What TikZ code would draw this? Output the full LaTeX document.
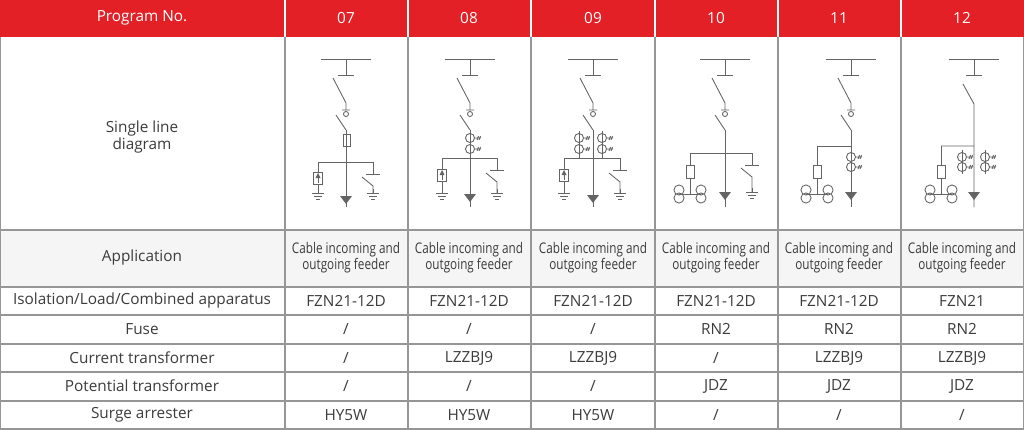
\documentclass[tikz,border=0pt]{standalone}
\usepackage{fontspec}
\setmainfont{Open Sans}
\usepackage{graphicx}
\definecolor{hdr}{RGB}{226,32,38}
\definecolor{grid}{RGB}{150,150,150}
\definecolor{ln}{RGB}{100,100,100}
\definecolor{txt}{RGB}{60,60,60}
\tikzset{el/.style={draw=ln,line width=0.65pt},
 cell/.style={text=txt,font=\fontsize{11.5}{13}\selectfont,align=center},
 hcell/.style={text=white,font=\fontsize{11.5}{13}\selectfont},
 app/.style={text=txt,font=\fontsize{11}{13}\selectfont,align=center}}
\newcommand\topsec[1]{%
 \draw[el] (#1-25,59)--(#1+25,59) (#1,59)--(#1,75) (#1-8,75)--(#1+8,75);
 \draw[el] (#1-13,78)--(#1,103)--(#1,110) (#1-4,110)--(#1+4,110);
 \draw[el] (#1,114) circle[radius=1.9pt];
 \draw[el] (#1-10,115)--(#1,130);}
\newcommand\gnd[2]{\draw[el] (#1,#2-4)--(#1,#2) (#1-6,#2)--(#1+6,#2) (#1-4,#2+3)--(#1+4,#2+3) (#1-2,#2+6)--(#1+2,#2+6);}
\newcommand\cable[2]{\fill[ln] (#1-6,#2)--(#1+6,#2)--(#1,#2+8)--cycle;}
\newcommand\arrester[3]{%
 \draw[el] (#1-4.5,#2) rectangle (#1+4.5,#2+12);
 \draw[el] (#1,#2+11)--(#1,#2+5); \fill[ln] (#1-2.5,#2+6)--(#1+2.5,#2+6)--(#1,#2+1)--cycle;
 \draw[el] (#1,#2+12)--(#1,#3); \gnd{#1}{#3}}
\newcommand\esw[3]{%
 \draw[el] (#1,#2)--(#1,#2+12) (#1-7,#2+12)--(#1+7,#2+12);
 \draw[el] (#1-11,#2+15)--(#1,#2+24)--(#1,#3); \gnd{#1}{#3}}
\newcommand\ct[2]{%
 \draw[el] (#1,#2) circle[radius=3.4pt];
 \draw[el] (#1+4.5,#2)--(#1+11,#2) (#1+7,#2+2)--(#1+8.5,#2-2) (#1+9,#2+2)--(#1+10.5,#2-2);}
\newcommand\ptset[3]{%
 \draw[el] (#1,#2)--(#1,#3) (#1-4,#3) rectangle (#1+4,#3+13) (#1,#3+13)--(#1,194);
 \draw[el] (#1-11,194)--(#1+11,194);
 \foreach \xx in {-11,11}{\draw[el] (#1+\xx,190) circle[radius=3.8pt] (#1+\xx,198) circle[radius=3.8pt];}}
\begin{document}
\begin{tikzpicture}[x=0.75pt,y=-0.75pt]
\useasboundingbox (0,0) rectangle (1024,429);
\fill[white] (0,0) rectangle (1024,429);
\fill[hdr] (0,0) rectangle (1024,37);
\fill[black!4] (0,230) rectangle (1024,287);
\foreach \x in {285,408,531,655,778,901} {\draw[white,line width=1pt] (\x,0)--(\x,37); \draw[grid,line width=0.8pt] (\x,37)--(\x,429);}
\foreach \y in {230,287,315,344,372,401} \draw[grid,line width=0.8pt] (0,\y)--(1024,\y);
\draw[grid,line width=0.8pt] (0,37)--(0,429) (1024,37)--(1024,429) (0,429)--(1024,429);
\node[hcell] (h0) at (142,18) {Program No.};
\foreach \t/\x [count=\i] in {07/346,08/469,09/593,10/716,11/839,12/962} \node[hcell] (h\i) at (\x,18) {\t};
\node[cell] (r0) at (142,137) {Single line\\diagram};
\node[cell] (r1) at (142,258) {Application};
\node[cell] (r2) at (142,301) {Isolation/Load/Combined apparatus};
\node[cell] (r3) at (142,329) {Fuse};
\node[cell] (r4) at (142,358) {Current transformer};
\node[cell] (r5) at (142,386) {Potential transformer};
\node[cell] (r6) at (142,415) {Surge arrester};
\foreach \x [count=\i] in {346,469,593,716,839,962} {
 \node[app] (a\i) at (\x,258) {\scalebox{0.8}[1]{\begin{tabular}{@{}c@{}}Cable incoming and\\[-1pt]outgoing feeder\end{tabular}}};}
\foreach \x/\a/\b/\c/\d/\e [count=\i] in {346/FZN21-12D/{/}/{/}/{/}/HY5W,469/FZN21-12D/{/}/LZZBJ9/{/}/HY5W,593/FZN21-12D/{/}/LZZBJ9/{/}/HY5W,716/FZN21-12D/RN2/{/}/JDZ/{/},839/FZN21-12D/RN2/LZZBJ9/JDZ/{/},962/FZN21/RN2/LZZBJ9/JDZ/{/}} {
 \node[cell] (c\i a) at (\x,301) {\a}; \node[cell] (c\i b) at (\x,329) {\b};
 \node[cell] (c\i c) at (\x,358) {\c}; \node[cell] (c\i d) at (\x,386) {\d};
 \node[cell] (c\i e) at (\x,415) {\e};}
% 07
\topsec{346}
\draw[el] (346,130)--(346,207) (343,134) rectangle (350,146) (318,162)--(373,162) (318,162)--(318,172);
\arrester{318}{172}{193} \esw{373}{162}{193} \cable{346}{196}
% 08
\topsec{470}
\draw[el] (470,130)--(470,207) (442,158)--(497,158) (442,158)--(442,169);
\ct{470}{138} \ct{470}{149}
\arrester{442}{169}{193} \esw{497}{158}{193} \cable{470}{194}
% 09
\topsec{593}
\draw[el] (593,130)--(593,207) (564,158)--(620,158) (564,158)--(564,169) (579,131)--(579,158) (602,131)--(602,158);
\ct{579}{138} \ct{579}{149} \ct{602}{138} \ct{602}{149}
\arrester{564}{169}{193} \esw{620}{158}{193} \cable{593}{195}
% 10
\topsec{725}
\draw[el] (725,130)--(725,207) (690,153)--(752,153);
\ptset{690}{153}{165} \esw{752}{153}{192} \cable{725}{192}
% 11
\topsec{851}
\draw[el] (851,130)--(851,207) (817,146)--(851,146);
\ct{851}{157} \ct{851}{167}
\ptset{817}{146}{165} \cable{851}{192}
% 12
\draw[el] (949,59)--(999,59) (974,59)--(974,75) (966,75)--(982,75);
\draw[el] (963,84)--(974,104)--(974,207) (941,146)--(974,146);
\draw[el] (962,150)--(962,174) (985,150)--(985,174);
\ct{962}{157} \ct{962}{167} \ct{985}{157} \ct{985}{167}
\ptset{941}{146}{165} \cable{974}{192}
\end{tikzpicture}
\end{document}
